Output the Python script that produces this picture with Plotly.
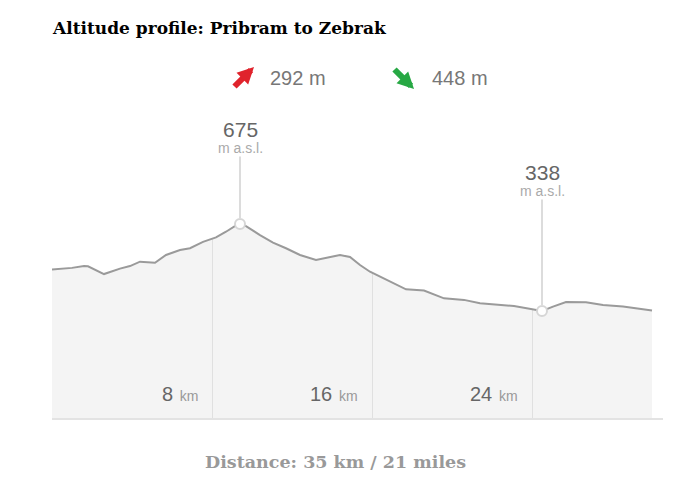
import plotly.graph_objects as go

# ---- data ----
distance_km = [0.0, 1.0, 1.6, 1.8, 2.6, 3.4, 3.9, 4.4, 5.15, 5.7, 6.4, 6.9, 7.55, 8.2, 8.7, 9.2,
               9.4, 9.7, 10.4, 11.05, 11.7, 12.4, 13.2, 13.9, 14.4, 14.9, 15.4, 15.9, 16.9, 17.7,
               18.6, 19.6, 20.6, 21.4, 23.1, 23.9, 24.5, 25.05, 25.7, 26.7, 27.55, 28.55, 30.0]
altitude_m = [499, 505, 512, 511, 481, 502, 512, 529, 525, 555, 574, 581, 606, 623, 645, 670,
              675, 667, 632, 603, 581, 555, 536, 548, 555, 547, 516, 490, 451, 422,
              417, 387, 381, 368, 357, 345, 338, 355, 373, 372, 361, 355, 340]

tick_km = [8, 16, 24]
tick_labels = ["8", "16", "24"]

max_point = (9.4, 675)
min_point = (24.5, 338)
ascent_m = 292
descent_m = 448
title_text = "Altitude profile: Pribram to Zebrak"
footer_text = "Distance: 35 km / 21 miles"

Y_MIN, Y_MAX = -76.6, 1155.4
X_MAX = 30.55

# page has an 8px body margin -> plot area in window px: x 52..663, y 100..418
PL, PR, PT, PB = 52, 663, 100, 418


def px(X):
    return (X - PL) / (PR - PL)


def py(Y):
    return (PB - Y) / (PB - PT)


fig = go.Figure()

fig.add_trace(go.Scatter(x=distance_km, y=[Y_MIN] * len(distance_km), mode="lines",
                         line=dict(width=0), hoverinfo="skip", showlegend=False))
fig.add_trace(go.Scatter(x=distance_km, y=altitude_m, mode="lines", fill="tonexty",
                         fillcolor="rgba(0,0,0,0.042)", line=dict(width=0),
                         hoverinfo="skip", showlegend=False))
fig.add_trace(go.Scatter(x=distance_km, y=[Y_MAX] * len(distance_km), mode="lines", fill="tonexty",
                         fillcolor="white", line=dict(width=0),
                         hoverinfo="skip", showlegend=False))
fig.add_trace(go.Scatter(x=distance_km, y=altitude_m, mode="lines",
                         line=dict(color="#9a9a9a", width=2), showlegend=False))
fig.add_trace(go.Scatter(x=[max_point[0], min_point[0]], y=[max_point[1], min_point[1]],
                         mode="markers",
                         marker=dict(size=10, color="white", line=dict(color="#d6d6d6", width=2)),
                         showlegend=False))


def peak_label(x, y, ay):
    fig.add_annotation(
        x=x, y=y, xref="x", yref="y", showarrow=True, arrowhead=0, arrowwidth=2,
        arrowcolor="#dcdcdc", ax=0, ay=ay, standoff=5,
        text=(f"<span style='font-size:21px;color:#666666'>{y}</span><br>"
              f"<span style='font-size:14px;color:#aaaaaa'>m a.s.l.</span>"),
        font=dict(family="Liberation Sans, Arial, sans-serif"), align="center",
        borderpad=0)


peak_label(max_point[0], max_point[1], -87)
peak_label(min_point[0], min_point[1], -131)

for k, lab in zip(tick_km, tick_labels):
    fig.add_annotation(
        x=k, y=py(394), xref="x", yref="paper", xanchor="right", yanchor="middle",
        xshift=-12, showarrow=False,
        text=f"<span style='font-size:20px;color:#666666'>{lab}</span>\u00a0 "
             f"<span style='font-size:14px;color:#999999'>km</span>",
        font=dict(family="Liberation Sans, Arial, sans-serif"))

# title
fig.add_annotation(x=px(50), y=py(28), xref="paper", yref="paper", showarrow=False,
                   text=f"<b>{title_text}</b>",
                   font=dict(family="DejaVu Serif, serif", size=17, color="black"),
                   xanchor="left", yanchor="middle")

# ascent / descent arrows
fig.add_annotation(x=px(254), y=py(67), xref="paper", yref="paper", text="", showarrow=True,
                   arrowhead=2, arrowwidth=6, arrowsize=0.55, arrowcolor="#e0232c",
                   ax=-21, ay=21)
fig.add_annotation(x=px(268), y=py(78), xref="paper", yref="paper", showarrow=False,
                   text=f"{ascent_m} m", xanchor="left", yanchor="middle",
                   font=dict(family="Liberation Sans, Arial, sans-serif", size=20, color="#777777"))
fig.add_annotation(x=px(414), y=py(89), xref="paper", yref="paper", text="", showarrow=True,
                   arrowhead=2, arrowwidth=6, arrowsize=0.55, arrowcolor="#27a844",
                   ax=-21, ay=-21)
fig.add_annotation(x=px(430), y=py(78), xref="paper", yref="paper", showarrow=False,
                   text=f"{descent_m} m", xanchor="left", yanchor="middle",
                   font=dict(family="Liberation Sans, Arial, sans-serif", size=20, color="#777777"))

# footer
fig.add_annotation(x=px(335), y=py(462), xref="paper", yref="paper", showarrow=False,
                   text=f"<b>{footer_text}</b>", xanchor="center", yanchor="middle",
                   font=dict(family="DejaVu Serif, serif", size=17.5, color="#999999"))

fig.update_layout(
    width=700, height=500,
    margin=dict(l=PL - 8, r=700 - (PR - 8), t=PT - 8, b=500 - (PB - 8)),
    paper_bgcolor="white", plot_bgcolor="white",
    xaxis=dict(range=[0, X_MAX], tickvals=tick_km, showticklabels=False, showgrid=True,
               gridcolor="#ebebeb", gridwidth=1, zeroline=False, showline=True,
               linecolor="#e3e3e3", linewidth=2, ticks=""),
    yaxis=dict(range=[Y_MIN, Y_MAX], showgrid=False, zeroline=False, showticklabels=False,
               showline=False, ticks=""),
    showlegend=False,
)

fig.write_html("out.html")
